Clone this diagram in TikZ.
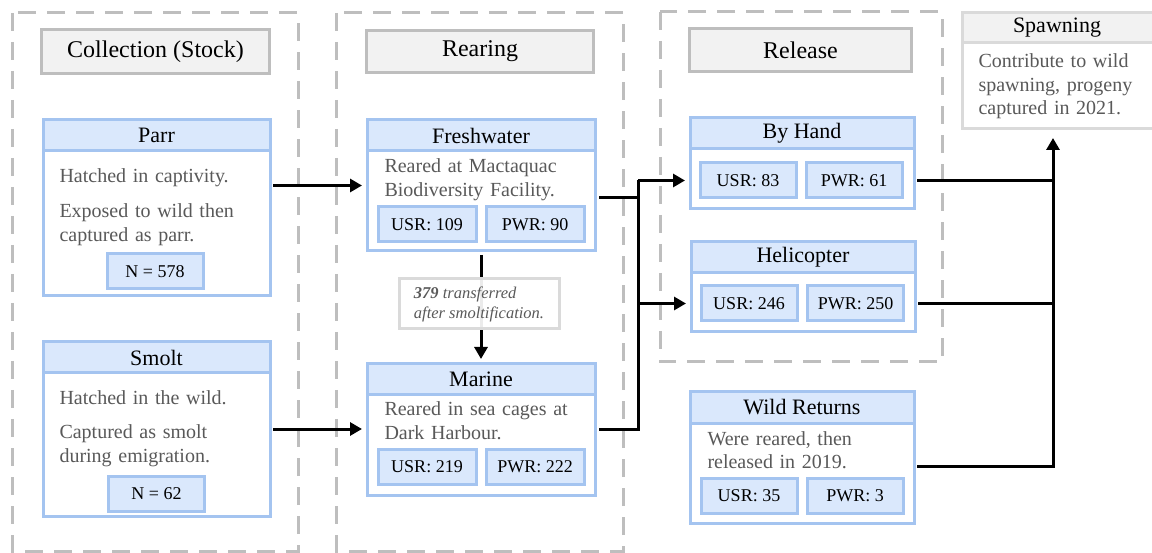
\documentclass[tikz,border=0pt]{standalone}
\usepackage{fontspec}
\setmainfont{Liberation Serif}
\usetikzlibrary{arrows.meta,positioning,calc}

\definecolor{cardline}{RGB}{164,196,240}
\definecolor{cardfill}{RGB}{218,232,252}
\definecolor{stageline}{RGB}{190,190,190}
\definecolor{stagefill}{RGB}{242,242,242}
\definecolor{noteline}{RGB}{218,218,218}
\definecolor{bodygray}{RGB}{89,89,89}

\begin{document}
\begin{tikzpicture}[x=1pt,y=-1pt,line width=3pt]
       \tikzstyle{stage}=[draw=stageline,dash pattern=on 18pt off 11pt]
       \tikzstyle{stagehead}=[draw=stageline,fill=stagefill,outer sep=0pt,font=\fontsize{24}{28}\selectfont]
       \tikzstyle{card}=[draw=cardline,fill=white,outer sep=0pt]
       \tikzstyle{cardhead}=[draw=cardline,fill=cardfill,outer sep=0pt,minimum height=31pt,anchor=north,font=\fontsize{22}{26}\selectfont]
       \tikzstyle{countbox}=[draw=cardline,fill=cardfill,outer sep=0pt,minimum width=96pt,minimum height=35pt,font=\fontsize{18}{22}\selectfont]
       \tikzstyle{bodytext}=[anchor=base west,inner sep=0pt,text width=200pt,align=left,text=bodygray,font=\fontsize{20}{24}\selectfont]
       \tikzstyle{flow}=[-{Triangle[length=12pt,width=13pt]},line width=3pt,shorten >=5pt]
       \tikzstyle{link}=[line width=3pt]

       \useasboundingbox (0,0) rectangle (1152,553);

       % stage frames
       \draw[stage] (12,13) rectangle (298,551);
       \draw[stage] (336,13) rectangle (623,551);
       \draw[stage] (660,12) rectangle (942,362);

       \node[stagehead, minimum width=228pt, minimum height=44pt] (collect_head) at (155.5,51.5) {Collection (Stock)};
       \node[stagehead, minimum width=227pt, minimum height=42pt] (rear_head) at (480,51.5) {Rearing};
       \node[stagehead, minimum width=222pt, minimum height=43pt] (release_head) at (800.5,50) {Release};

       % collection
       \node[card, minimum width=227pt, minimum height=176pt] (parr) at (156.5,208) {};
       \node[cardhead, minimum width=227pt] (parr_head) at (parr.north) {Parr};
       \node[bodytext] (parr_txt) at (58,183) {Hatched in captivity.\\[11pt]Exposed to wild then\\captured as parr.};
       \node[countbox] (parr_n) at (155,271.5) {N = 578};

       \node[card, minimum width=227pt, minimum height=174pt] (smolt) at (156.5,429) {};
       \node[cardhead, minimum width=227pt] (smolt_head) at (smolt.north) {Smolt};
       \node[bodytext] (smolt_txt) at (58,405) {Hatched in the wild.\\[10pt]Captured as smolt\\during emigration.};
       \node[countbox] (smolt_n) at (156.5,494) {N = 62};

       % rearing
       \node[card, minimum width=228pt, minimum height=131pt] (fresh) at (481,185.5) {};
       \node[cardhead, minimum width=228pt] (fresh_head) at (fresh.north) {Freshwater};
       \node[bodytext] (fresh_txt) at (383,173) {Reared at Mactaquac\\Biodiversity Facility.};
       \node[countbox, minimum width=98pt] (fresh_usr) at (427,224.5) {USR: 109};
       \node[countbox, minimum width=98pt] (fresh_pwr) at (535,224.5) {PWR: 90};

       \node[card, minimum width=228pt, minimum height=131pt] (marine) at (481,429.5) {};
       \node[cardhead, minimum width=228pt] (marine_head) at (marine.north) {Marine};
       \node[bodytext] (marine_txt) at (383,416) {Reared in sea cages at\\Dark Harbour.};
       \node[countbox, minimum width=98pt] (marine_usr) at (427,466.5) {USR: 219};
       \node[countbox, minimum width=98pt] (marine_pwr) at (535,466.5) {PWR: 222};

       \draw[flow, shorten <=4pt] (fresh.south) -- (marine.north);
       \node[draw=noteline, fill=white, fill opacity=0.92, text opacity=1, outer sep=0pt, minimum width=160pt, minimum height=50pt, align=left, text=bodygray, font=\fontsize{16.5}{20}\selectfont\itshape] (transfer) at (479,304) {\textbf{379} transferred\\after smoltification.};

       % release
       \node[card, minimum width=224pt, minimum height=91pt] (hand) at (802,163.5) {};
       \node[cardhead, minimum width=224pt] (hand_head) at (hand.north) {By Hand};
       \node[countbox] (hand_usr) at (748,180.5) {USR: 83};
       \node[countbox] (hand_pwr) at (854,180.5) {PWR: 61};

       \node[card, minimum width=224pt, minimum height=90pt] (heli) at (803,287) {};
       \node[cardhead, minimum width=224pt] (heli_head) at (heli.north) {Helicopter};
       \node[countbox] (heli_usr) at (749,303.5) {USR: 246};
       \node[countbox] (heli_pwr) at (855.5,303.5) {PWR: 250};

       \node[card, minimum width=224pt, minimum height=131pt] (wild) at (802,457.5) {};
       \node[cardhead, minimum width=224pt] (wild_head) at (wild.north) {Wild Returns};
       \node[bodytext] (wild_txt) at (706,445) {Were reared, then\\released in 2019.};
       \node[countbox] (wild_usr) at (749,495.5) {USR: 35};
       \node[countbox] (wild_pwr) at (855,495.5) {PWR: 3};

       % spawning
       \node[draw=noteline, fill=white, outer sep=0pt, minimum width=198pt, minimum height=116pt] (spawn) at (1061,71) {};
       \node[draw=noteline, fill=stagefill, outer sep=0pt, minimum width=198pt, minimum height=30pt, anchor=north] (spawn_head) at (spawn.north) {};
       \node[font=\fontsize{22}{26}\selectfont] (spawn_title) at (1057,27.5) {Spawning};
       \node[bodytext, font=\fontsize{20}{23.5}\selectfont] (spawn_txt) at (977,68) {Contribute to wild\\spawning, progeny\\captured in 2021.};

       % connectors
       \coordinate (split) at (638,180.5);
       \draw[flow, shorten <=3pt] (parr.east |- fresh.west) -- (fresh.west);
       \draw[flow, shorten <=3pt] (smolt.east) -- (smolt.east -| marine.west);
       \draw[link, shorten <=4pt] ([yshift=-12pt]fresh.east) -| (split);
       \draw[link, shorten <=4pt] (marine.east) -| (split);
       \draw[flow] (split) -- (split -| hand.west);
       \draw[flow] (split |- heli_usr) -- (heli_usr -| heli.west);

       \coordinate (merge) at ([xshift=-8pt]spawn.south);
       \draw[link, shorten <=3pt] (hand_usr -| hand.east) -- (hand_usr -| merge);
       \draw[link, shorten <=3pt] (heli_usr -| heli.east) -- (heli_usr -| merge);
       \draw[flow, shorten <=3pt, shorten >=9pt] ([yshift=-9pt]wild.east) -| (merge);
     \end{tikzpicture}
\end{document}
